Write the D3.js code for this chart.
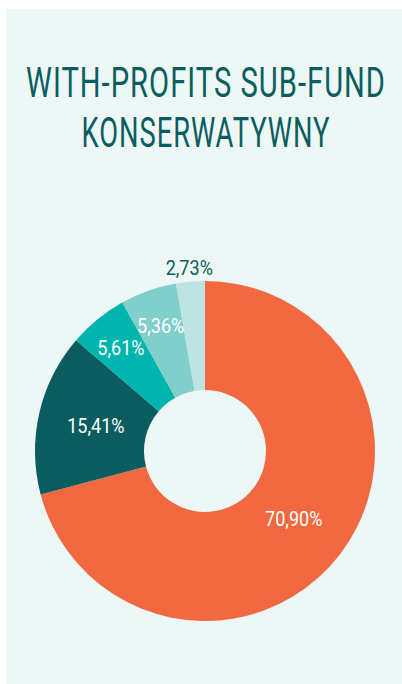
<!DOCTYPE html>
<html>
<head>
<meta charset="utf-8">
<script src="https://cdn.jsdelivr.net/npm/d3@7"></script>
<style>
  html, body { margin: 0; padding: 0; background: #fff; }
  svg { display: block; }
</style>
</head>
<body>
<svg id="chart"></svg>
<script>
// dane wykresu
const titleLines = ['WITH-PROFITS SUB-FUND', 'KONSERWATYWNY'];
const shares = [70.90, 15.41, 5.61, 5.36, 2.73];
const shareLabels = ['70,90%', '15,41%', '5,61%', '5,36%', '2,73%'];
const sliceColors = ['#f26841', '#0b5c5e', '#00b5ae', '#80cfca', '#bee3e3'];

const W = 402, H = 684;
const svg = d3.select('#chart').attr('width', W).attr('height', H);

// tło panelu
svg.append('rect')
  .attr('x', 6).attr('y', 9)
  .attr('width', W - 6).attr('height', H - 9)
  .attr('fill', '#edf7f5');

// tytuł - zwężony przez skalowanie w poziomie
const titleWidths = [360, 249];
svg.selectAll('.title')
  .data(titleLines)
  .enter().append('text')
  .attr('class', 'title')
  .attr('text-anchor', 'middle')
  .style('font-family', 'Roboto, sans-serif')
  .style('font-size', '42px')
  .style('font-weight', 400)
  .style('letter-spacing', '1.5px')
  .style('fill', '#0b5e5f')
  .text(d => d)
  .attr('transform', function(d, i) {
    const sx = titleWidths[i] / this.getComputedTextLength();
    return `translate(206,${97 + i * 50}) scale(${sx},1)`;
  });

// wykres pierścieniowy
const cx = 205, cy = 451;
const outerR = 170, innerR = 61;

const pie = d3.pie().sort(null).value(d => d);
const arcs = pie(shares);
const arc = d3.arc().innerRadius(innerR).outerRadius(outerR);

const g = svg.append('g').attr('transform', `translate(${cx},${cy})`);

g.selectAll('path')
  .data(arcs)
  .enter().append('path')
  .attr('d', arc)
  .attr('fill', (d, i) => sliceColors[i]);

// etykiety - małe wycinki przesunięte na zewnątrz
const labelR = v => v >= 10 ? 112 : v >= 4 ? 133 : outerR + 14;

g.selectAll('.lbl')
  .data(arcs)
  .enter().append('text')
  .attr('class', 'lbl')
  .attr('transform', d => {
    const a = (d.startAngle + d.endAngle) / 2;
    const r = labelR(d.value);
    return `translate(${Math.sin(a) * r},${-Math.cos(a) * r + 7}) scale(0.86,1)`;
  })
  .attr('text-anchor', 'middle')
  .style('font-family', 'Roboto, sans-serif')
  .style('font-size', '21px')
  .style('font-weight', 400)
  .style('fill', d => d.value < 4 ? '#0b5e5f' : '#ffffff')
  .text((d, i) => shareLabels[i]);
</script>
</body>
</html>
